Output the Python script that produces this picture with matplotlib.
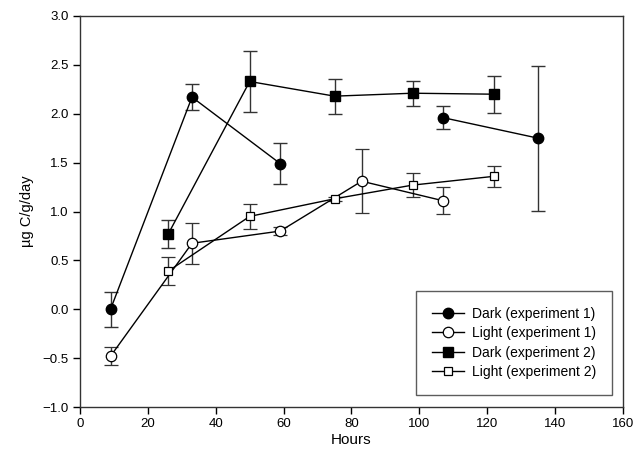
import numpy as np
import matplotlib
matplotlib.use("Agg")
import matplotlib.pyplot as plt
from matplotlib.lines import Line2D

plt.rcParams['font.family'] = ['Liberation Sans', 'DejaVu Sans']

# Data
hours_e1 = [9, 33, 59, 83, 107, 135]
dark_e1 = [0.0, 2.17, 1.49, np.nan, 1.96, 1.75]
dark_e1_err = [0.18, 0.13, 0.21, np.nan, 0.12, 0.74]

hours_l1 = [9, 33, 59, 83, 107]
light_e1 = [-0.48, 0.675, 0.80, 1.31, 1.11]
light_e1_err = [0.09, 0.21, 0.04, 0.33, 0.14]

hours_e2 = [26, 50, 75, 98, 122]
dark_e2 = [0.77, 2.33, 2.18, 2.21, 2.20]
dark_e2_err = [0.14, 0.31, 0.18, 0.13, 0.19]
light_e2 = [0.39, 0.95, 1.13, 1.27, 1.36]
light_e2_err = [0.145, 0.13, 0.02, 0.12, 0.11]

labels = ["Dark (experiment 1)", "Light (experiment 1)",
          "Dark (experiment 2)", "Light (experiment 2)"]

fig = plt.figure(figsize=(6.42, 4.53), dpi=100)
ax = fig.add_axes([0.1246, 0.1015, 0.8458, 0.8632])

ekw = dict(ecolor="#333333", elinewidth=1.0, capsize=5, capthick=1.0)
styles = [
    dict(marker="o", ms=7.5, mfc="black", mec="black"),
    dict(marker="o", ms=7.5, mfc="white", mec="black", mew=0.9),
    dict(marker="s", ms=6.5, mfc="black", mec="black"),
    dict(marker="s", ms=5.8, mfc="white", mec="black", mew=0.9),
]
series = [(hours_e1, dark_e1, dark_e1_err),
          (hours_l1, light_e1, light_e1_err),
          (hours_e2, dark_e2, dark_e2_err),
          (hours_e2, light_e2, light_e2_err)]
for (x, y, e), st in zip(series, styles):
    ax.errorbar(x, y, yerr=e, color="black", lw=1.0, **st, **ekw)

ax.set_xlim(0, 160)
ax.set_ylim(-1.0, 3.0)
ax.set_xticks(np.arange(0, 161, 20))
yt = np.arange(-1.0, 3.01, 0.5)
ax.set_yticks(yt)
ax.set_yticklabels([f"{v:.1f}".replace("-", "\u2212") for v in yt])
ax.tick_params(direction="out", length=5, width=1, labelsize=9.5, pad=3)
for s in ax.spines.values():
    s.set_linewidth(1.0)
    s.set_color("#333333")

ax.set_xlabel("Hours", fontsize=11, labelpad=2)
ax.set_ylabel("\u00b5g C/g/day", fontsize=10.5, labelpad=6)

# legend without error bars, like the original
handles = [Line2D([], [], color="black", lw=1.0, **st) for st in styles]
leg = ax.legend(handles, labels, loc="lower right", bbox_to_anchor=(0.98, 0.03),
                fontsize=10, frameon=True, fancybox=False, edgecolor="#333333",
                borderpad=1.15, handlelength=2.3, labelspacing=0.4,
                handletextpad=0.6, borderaxespad=0)
leg.get_frame().set_linewidth(1.0)

fig.savefig("out.png", dpi=100)
